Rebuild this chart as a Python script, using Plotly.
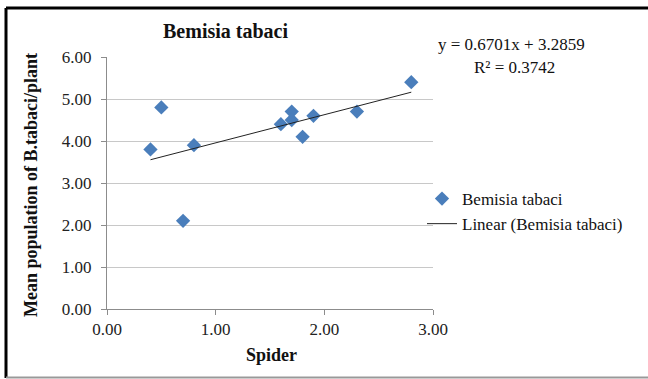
import numpy as np
import plotly.graph_objects as go

# Spider counts vs. mean whitefly population per plant
spider = [0.4, 0.5, 0.7, 0.8, 1.6, 1.7, 1.7, 1.8, 1.9, 2.3, 2.8]
bemisia = [3.8, 4.8, 2.1, 3.9, 4.4, 4.7, 4.5, 4.1, 4.6, 4.7, 5.4]
x_ticks = [0, 1, 2, 3]
y_ticks = [0, 1, 2, 3, 4, 5, 6]

# least-squares trendline over the observed x range
slope, intercept = np.polyfit(spider, bemisia, 1)
pred = np.polyval([slope, intercept], spider)
ss_res = np.sum((np.array(bemisia) - pred) ** 2)
ss_tot = np.sum((np.array(bemisia) - np.mean(bemisia)) ** 2)
r2 = 1 - ss_res / ss_tot
x_line = [min(spider), max(spider)]
y_line = [slope * v + intercept for v in x_line]

FONT = "Liberation Serif"
W, H = 648, 379
ML, MR, MT, MB = 107, 215, 57, 70
PW, PH = W - ML - MR, H - MT - MB


def px(xp):
    return (xp - ML) / PW


def py(yp):
    return (H - MB - yp) / PH


fig = go.Figure()
fig.add_trace(go.Scatter(
    x=spider, y=bemisia, mode="markers", name="Bemisia tabaci",
    marker=dict(symbol="diamond", size=11, color="#4A7EBB",
                line=dict(width=0)),
))
fig.add_trace(go.Scatter(
    x=x_line, y=y_line, mode="lines", name="Linear (Bemisia tabaci)",
    line=dict(color="#222222", width=1),
))

axis_common = dict(
    showline=True, linecolor="#8c8c8c", linewidth=1,
    ticks="outside", ticklen=5, tickcolor="#8c8c8c",
    tickfont=dict(family=FONT, size=17, color="#222"),
    zeroline=False,
)

fig.update_layout(
    width=W, height=H,
    margin=dict(l=ML, r=MR, t=MT, b=MB),
    paper_bgcolor="white", plot_bgcolor="white",
    font=dict(family=FONT, size=17, color="#111"),
    xaxis=dict(range=[0, 3], tickvals=x_ticks, tickformat=".2f",
               showgrid=False, **axis_common),
    yaxis=dict(range=[0, 6], tickvals=y_ticks, tickformat=".2f",
               showgrid=True, gridcolor="#c8c8c8", gridwidth=1,
               ticklabelstandoff=6, **axis_common),
    legend=dict(x=px(422), y=py(181), xanchor="left", yanchor="top",
                bgcolor="rgba(0,0,0,0)", font=dict(family=FONT, size=17),
                itemwidth=30, tracegroupgap=13),
    showlegend=True,
)

annotations = [
    dict(text="<b>Bemisia tabaci</b>", x=px(225), y=py(31),
         font=dict(size=20)),
    dict(text=f"y = {slope:.4f}x + {intercept:.4f}", x=px(511), y=py(45),
         font=dict(size=17)),
    dict(text=f"R² = {r2:.4f}", x=px(514), y=py(67), font=dict(size=17)),
    dict(text="<b>Mean population of B.tabaci/plant</b>", x=px(31),
         y=py(185), textangle=-90, font=dict(size=18)),
    dict(text="<b>Spider</b>", x=px(271), y=py(355), font=dict(size=18)),
]
for a in annotations:
    a.update(xref="paper", yref="paper", showarrow=False,
             xanchor="center", yanchor="middle")
fig.update_layout(annotations=annotations)

# chart frame
fig.add_shape(type="line", xref="paper", yref="paper",
              x0=px(6), x1=px(648), y0=py(8), y1=py(8),
              line=dict(color="black", width=3))
fig.add_shape(type="line", xref="paper", yref="paper",
              x0=px(6), x1=px(6), y0=py(8), y1=py(378),
              line=dict(color="black", width=3))
fig.add_shape(type="line", xref="paper", yref="paper",
              x0=px(6), x1=px(648), y0=py(377.5), y1=py(377.5),
              line=dict(color="#999999", width=2))

fig.write_html("out.html")
